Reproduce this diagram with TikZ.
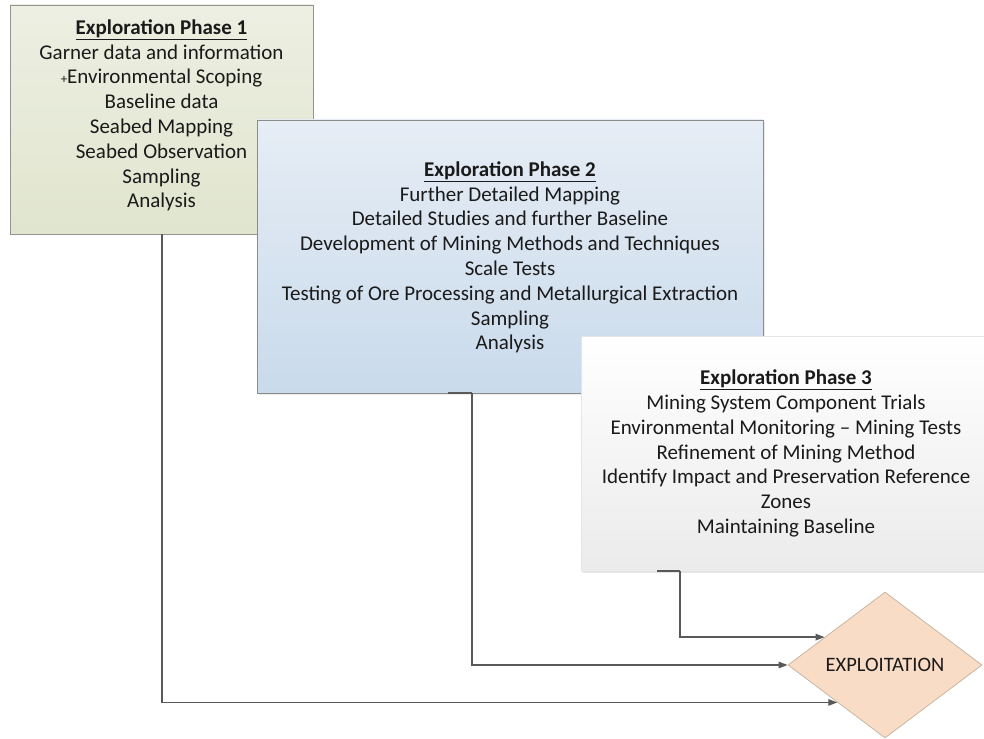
\documentclass[tikz,border=0pt]{standalone}
\usepackage{fontspec}
\setmainfont{Carlito}
\usetikzlibrary{shapes.geometric,arrows.meta,calc,shadows}
\definecolor{txt}{HTML}{1A1A1A}
\definecolor{bxonetop}{HTML}{EDEFE2}
\definecolor{bxonebot}{HTML}{E0E5CE}
\definecolor{bxtwotop}{HTML}{E6EDF5}
\definecolor{bxtwobot}{HTML}{C9DAEB}
\definecolor{bxthreebot}{HTML}{EBEBEB}
\definecolor{peach}{HTML}{F9DCC5}
\definecolor{peachline}{HTML}{C9B6A4}
\definecolor{conncol}{HTML}{595959}
\tikzset{
  phasebox/.style={rectangle, inner sep=0pt, shading=axis, shading angle=0},
  phasetext/.style={inner sep=0pt, align=center, text=txt,
    font=\fontsize{21}{24.8}\selectfont},
  conn/.style={draw=conncol, line width=1.4pt,
    -{Triangle[length=9pt,width=6.5pt]}},
  stub/.style={draw=conncol, line width=1.4pt}
}
\newcommand{\phtitle}[1]{\textbf{\underline{#1}}}
\begin{document}
\begin{tikzpicture}[x=1pt,y=-1pt]
\useasboundingbox (0,0) rectangle (984,738);
\fill[white] (0,0) rectangle (984,738);

\node[phasebox, draw=gray!85, line width=0.8pt,
  top color=bxonetop, bottom color=bxonebot,
  minimum width=303pt, minimum height=229pt] (b1) at (161.5,119.5) {};
\node[phasetext] (t1) at (161.5,115.5)
  {\phtitle{Exploration Phase 1}\\
   Garner data and information\\
   {\fontsize{13}{13}\selectfont +}Environmental Scoping\\
   Baseline data\\
   Seabed Mapping\\
   Seabed Observation\\
   Sampling\\
   Analysis};

\node[phasebox, draw=gray!90, line width=0.8pt,
  top color=bxtwotop, bottom color=bxtwobot,
  drop shadow={opacity=0.15, shadow xshift=2pt, shadow yshift=-2pt},
  minimum width=506pt, minimum height=273pt] (b2) at (510,256.5) {};
\node[phasetext] (t2) at (510,257.5)
  {\phtitle{Exploration Phase 2}\\
   Further Detailed Mapping\\
   Detailed Studies and further Baseline\\
   Development of Mining Methods and Techniques\\
   Scale Tests\\
   Testing of Ore Processing and Metallurgical Extraction\\
   Sampling\\
   Analysis};

\node[phasebox, draw=gray!20, line width=0.6pt,
  top color=white, bottom color=bxthreebot,
  drop shadow={opacity=0.2, shadow xshift=1.5pt, shadow yshift=-2pt},
  minimum width=410pt, minimum height=235pt] (b3) at (786,453.5) {};
\node[phasetext] (t3) at (786,453.5)
  {\phtitle{Exploration Phase 3}\\
   Mining System Component Trials\\
   Environmental Monitoring -- Mining Tests\\
   Refinement of Mining Method\\
   Identify Impact and Preservation Reference\\
   Zones\\
   Maintaining Baseline};

\node[diamond, draw=peachline, fill=peach, line width=0.8pt, inner sep=0pt,
  aspect=1.33, minimum width=194pt, minimum height=146pt, text=txt,
  font=\fontsize{20.5}{24}\selectfont] (exp) at (885,665) {EXPLOITATION};

% connector start points on the box bottoms
\coordinate (s1) at (162,234);
\coordinate (s2) at (448,393);
\coordinate (k2) at (472,393);
\coordinate (s3) at (657,571);
\coordinate (k3) at (680,571);
% arrow end points on the diamond border
\coordinate (p3) at ($(exp.west)!0.38!(exp.north)$);
\coordinate (p2) at (exp.west);
\coordinate (p1) at ($(exp.west)!0.51!(exp.south)$);

\draw[conn] (s1) |- (p1);
\draw[stub] (s2) -- (k2);
\draw[conn] (k2) |- (p2);
\draw[stub] (s3) -- (k3);
\draw[conn] (k3) |- (p3);
\end{tikzpicture}
\end{document}
